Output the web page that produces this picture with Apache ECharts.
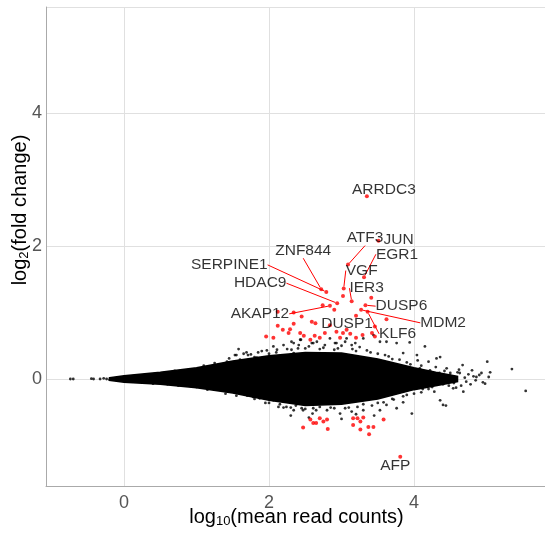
<!DOCTYPE html>
<html>
<head>
<meta charset="utf-8">
<script src="https://cdn.jsdelivr.net/npm/echarts@6/dist/echarts.min.js"></script>
<style>
  html, body { margin: 0; padding: 0; background: #fff; }
  #chart { width: 545px; height: 533px; }
</style>
</head>
<body>
<div id="chart"></div>
<script>
// dense core of the MA cloud: upper / lower envelope
const cloudX = [-0.2, 0, 0.5, 1.0, 1.5, 2.0, 2.5, 3.0, 3.5, 4.0, 4.3, 4.6];
const cloudUpper = [0.02, 0.05, 0.10, 0.17, 0.27, 0.35, 0.40, 0.39, 0.30, 0.17, 0.10, 0.04];
const cloudLower = [-0.02, -0.05, -0.08, -0.13, -0.21, -0.32, -0.40, -0.38, -0.30, -0.16, -0.10, -0.04];

// scattered black genes around the core
const blackPoints = [
  [-0.74, 0], [-0.70, 0], [-0.45, 0.005], [-0.42, 0], [-0.33, 0], [-0.28, 0.01], [-0.24, 0], [-0.2, -0.01],
  [0.91, 0.11], [1.05, 0.14], [1.19, 0.16], [1.30, 0.21], [1.42, 0.26], [1.53, 0.36], [1.55, 0.36], [1.58, 0.45],
  [1.60, 0.29], [1.65, 0.38], [1.69, 0.40], [1.71, 0.36], [1.83, 0.32], [1.85, 0.40], [1.97, 0.43], [2.06, 0.49],
  [2.11, 0.44], [2.20, 0.51], [2.31, 0.56], [2.31, 0.44], [2.34, 0.54], [2.34, 0.39], [2.41, 0.51], [2.43, 0.59],
  [2.44, 0.59], [2.59, 0.54], [2.61, 0.54], [2.66, 0.56], [2.77, 0.51], [2.84, 0.61], [2.91, 0.54], [2.93, 0.54],
  [3.05, 0.56], [3.07, 0.61], [3.14, 0.51], [3.19, 0.54], [3.30, 0.61], [3.44, 0.66], [3.53, 0.56], [3.62, 0.56],
  [3.76, 0.54], [3.94, 0.55], [4.15, 0.49], [3.85, 0.39], [4.04, 0.36], [4.20, 0.26], [4.31, 0.31], [4.36, 0.33],
  [4.45, 0.16], [4.50, 0.09], [4.63, 0.09], [4.67, 0.21], [4.80, 0.13], [4.86, 0.03], [4.93, 0.09], [5.01, 0.26],
  [5.03, 0.03], [4.98, -0.07], [5.35, 0.15], [5.54, -0.18], [4.68, -0.19], [4.54, -0.14], [4.40, -0.39], [4.44, -0.40],
  [4.36, -0.32], [3.97, -0.52], [3.76, -0.44], [3.62, -0.39], [3.53, -0.47], [3.30, -0.47], [3.14, -0.49], [2.98, -0.52],
  [2.80, -0.47], [2.61, -0.44], [2.47, -0.47], [2.34, -0.47], [2.24, -0.42], [2.20, -0.43], [1.46, -0.19], [1.49, -0.19],
  [1.60, -0.22], [1.78, -0.27], [1.87, -0.29], [2.06, -0.32], [2.13, -0.42], [2.37, -0.40], [1.21, -0.13],
  [4.5, 0.05], [4.55, -0.06], [4.6, 0.1], [4.65, -0.1], [4.7, 0.02], [4.72, -0.04], [4.75, 0.07], [4.78, -0.08],
  [4.82, 0.04], [4.85, -0.02], [4.9, 0.06], [4.95, -0.05], [5.05, 0.1], [4.62, 0.14], [4.58, -0.13],
  [2.7, 0.45], [2.9, 0.44], [3.2, 0.42], [3.4, 0.40], [3.6, 0.36], [3.7, 0.30], [3.9, 0.25], [4.1, 0.2],
  [2.5, 0.46], [2.0, 0.38], [1.8, 0.33], [2.5, -0.45], [2.7, -0.42], [2.9, -0.44], [3.1, -0.43], [3.3, -0.38],
  [3.5, -0.36], [3.7, -0.30], [3.9, -0.24], [4.1, -0.2], [4.2, -0.15], [1.0, -0.12], [0.8, 0.1], [0.6, -0.08],
  [1.3, -0.16], [2.0, -0.36], [1.7, -0.25], [2.3, -0.55], [2.55, -0.58], [3.0, -0.6], [3.45, -0.55],
  [0.3, 0.07], [0.4, -0.07], [0.7, 0.12], [0.75, -0.1], [1.1, 0.2], [1.15, -0.16], [1.25, 0.24], [1.4, -0.22],
  [1.45, 0.31], [1.55, -0.25], [1.75, 0.37], [1.8, -0.3], [1.9, 0.42], [1.95, -0.36], [2.1, 0.40], [2.15, -0.38],
  [2.25, 0.45], [2.3, -0.43], [2.4, 0.46], [2.45, -0.44], [2.55, 0.49], [2.65, -0.47], [2.75, 0.47], [2.85, -0.43],
  [2.95, 0.46], [3.05, -0.44], [3.15, 0.45], [3.22, -0.42], [3.35, 0.43], [3.42, -0.40], [3.5, 0.38], [3.58, -0.35],
  [3.65, 0.34], [3.72, -0.31], [3.8, 0.29], [3.85, -0.26], [3.95, 0.22], [4.0, -0.22], [4.08, 0.16], [4.12, -0.15],
  [4.22, 0.13], [4.25, -0.12], [4.35, 0.09], [4.4, -0.08], [4.42, 0.12], [4.48, -0.1], [4.3, 0.18], [4.28, -0.19],
  [3.25, 0.48], [3.0, 0.5], [2.6, -0.52], [3.2, -0.53], [3.85, -0.35], [4.05, 0.28]
];

// significant genes without a label
const redPoints = [
  [3.02, 1.25], [3.41, 1.22], [2.74, 1.11], [2.90, 1.04], [3.62, 0.90], [2.34, 1.00], [2.12, 1.01], [2.45, 0.94],
  [2.59, 0.86], [2.64, 0.84], [2.12, 0.80], [2.34, 0.83], [2.29, 0.75], [2.27, 0.69], [1.96, 0.64], [2.06, 0.62],
  [2.43, 0.69], [2.48, 0.65], [2.63, 0.65], [2.84, 0.81], [2.93, 0.71], [3.02, 0.69], [3.07, 0.74], [3.12, 0.68],
  [3.29, 0.66], [3.42, 0.69], [3.46, 0.64], [3.46, 0.79], [2.77, 0.69], [2.70, 0.62], [2.98, 0.62], [3.20, 0.62],
  [2.57, 0.59], [2.19, 0.74],
  [2.47, -0.73], [2.57, -0.61], [2.61, -0.66], [2.65, -0.66], [2.70, -0.59], [2.75, -0.64], [2.81, -0.75], [2.80, -0.61],
  [3.16, -0.59], [3.16, -0.69], [3.22, -0.59], [3.26, -0.64], [3.30, -0.58], [3.26, -0.76], [3.37, -0.72], [3.44, -0.72],
  [3.38, -0.83], [3.58, -0.61]
];

// labelled genes; first group gets a leader line, second does not
const lineGenes = ['ATF3', 'EGR1', 'VGF', 'ZNF844', 'SERPINE1', 'HDAC9', 'IER3', 'DUSP6', 'AKAP12', 'MDM2', 'KLF6'];
const lineGeneX = [3.09, 3.31, 3.03, 2.72, 2.79, 2.94, 3.14, 3.33, 2.84, 3.27, 3.36];
const lineGeneY = [1.72, 1.53, 1.36, 1.35, 1.31, 1.14, 1.17, 1.11, 1.10, 1.04, 1.01];
const plainGenes = ['ARRDC3', 'JUN', 'DUSP1', 'AFP'];
const plainGeneX = [3.35, 3.51, 3.20, 3.81];
const plainGeneY = [2.75, 2.08, 0.95, -1.17];

// label shifts in pixels (layout only)
const lineOffsets = [[17, -27], [33, -23], [18, -18], [-18, -39], [-97, -27], [-77, -20], [15, -13], [36, 1], [-70, 8], [82, 13], [30, 22]];
const plainOffsets = [[17, -6], [20, -1], [-9, 8], [-5, 9]];

const FONT = 'Liberation Sans, Arial, Helvetica, sans-serif';
const chart = echarts.init(document.getElementById('chart'));

const labelStyle = {
  show: true,
  position: 'inside',
  formatter: (p) => p.name,
  color: '#000',
  fontSize: 15.5,
  fontFamily: FONT
};

const option = {
  animation: false,
  backgroundColor: '#fff',
  grid: { left: 46, top: 7, right: -2, bottom: 47, outerBoundsMode: 'none', containLabel: false },
  xAxis: {
    type: 'value',
    min: -1.076,
    max: 5.834,
    splitNumber: 3,
    name: '{a|log}{s|10}{a|(mean read counts)}',
    nameLocation: 'middle',
    nameGap: 20,
    nameMoveOverlap: false,
    nameTextStyle: {
      fontFamily: FONT,
      color: '#000',
      rich: {
        a: { fontSize: 20, lineHeight: 22, fontFamily: FONT, color: '#000' },
        s: { fontSize: 13, lineHeight: 8, verticalAlign: 'bottom', fontFamily: FONT, color: '#000' }
      }
    },
    axisLine: { show: true, onZero: false, lineStyle: { color: '#aaa', width: 1 } },
    axisTick: { show: false },
    axisLabel: { showMinLabel: false, showMaxLabel: false, color: '#555', fontSize: 18, fontFamily: FONT, margin: 8 },
    splitLine: { show: true, lineStyle: { color: '#e0e0e0', width: 1 } }
  },
  yAxis: {
    type: 'value',
    min: -1.609,
    max: 5.594,
    splitNumber: 3,
    axisLine: { show: true, onZero: false, lineStyle: { color: '#aaa', width: 1 } },
    axisTick: { show: false },
    axisLabel: { showMinLabel: false, showMaxLabel: false, color: '#555', fontSize: 18, fontFamily: FONT, margin: 4 },
    splitLine: { show: true, lineStyle: { color: '#e0e0e0', width: 1 } }
  },
  graphic: [
    {
      type: 'text',
      x: 20,
      y: 210,
      rotation: Math.PI / 2,
      style: {
        text: '{a|log}{s|2}{a|(fold change)}',
        align: 'center',
        verticalAlign: 'middle',
        rich: {
          a: { fontSize: 20, lineHeight: 22, fontFamily: FONT, fill: '#000' },
          s: { fontSize: 13, lineHeight: 8, verticalAlign: 'bottom', fontFamily: FONT, fill: '#000' }
        }
      }
    }
  ],
  series: [
    {
      type: 'custom',
      silent: true,
      z: 1,
      data: [[0, 0]],
      renderItem: (params, api) => {
        const pts = [];
        cloudX.forEach((x, i) => pts.push(api.coord([x, cloudUpper[i]])));
        for (let i = cloudX.length - 1; i >= 0; i--) pts.push(api.coord([cloudX[i], cloudLower[i]]));
        return { type: 'polygon', shape: { points: pts }, style: { fill: '#000', stroke: '#000', lineWidth: 1.5 } };
      }
    },
    {
      type: 'scatter',
      z: 2,
      symbolSize: 2.8,
      itemStyle: { color: '#000' },
      silent: true,
      data: blackPoints
    },
    {
      type: 'scatter',
      z: 3,
      symbolSize: 4,
      itemStyle: { color: '#ff0000' },
      silent: true,
      data: redPoints
    },
    {
      type: 'scatter',
      z: 4,
      symbolSize: 4,
      itemStyle: { color: '#ff0000' },
      data: lineGenes.map((g, i) => ({ name: g, value: [lineGeneX[i], lineGeneY[i]] })),
      label: labelStyle,
      labelLine: { show: true, lineStyle: { color: '#ff0000', width: 1 } },
      labelLayout: (p) => ({ dx: lineOffsets[p.dataIndex][0], dy: lineOffsets[p.dataIndex][1] })
    },
    {
      type: 'scatter',
      z: 4,
      symbolSize: 4,
      itemStyle: { color: '#ff0000' },
      data: plainGenes.map((g, i) => ({ name: g, value: [plainGeneX[i], plainGeneY[i]] })),
      label: labelStyle,
      labelLayout: (p) => ({ dx: plainOffsets[p.dataIndex][0], dy: plainOffsets[p.dataIndex][1] })
    }
  ]
};

chart.setOption(option);
</script>
</body>
</html>
